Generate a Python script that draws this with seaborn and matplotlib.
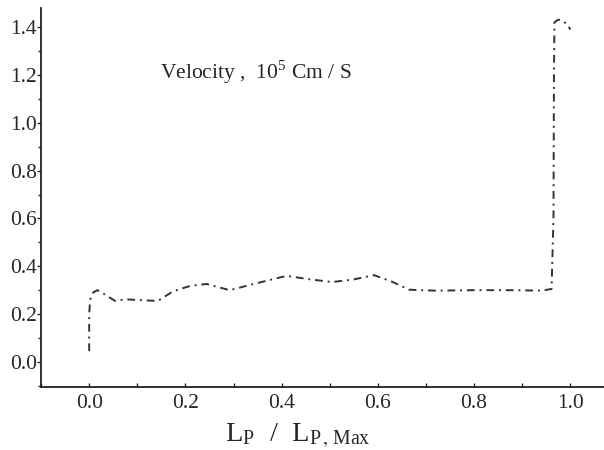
import matplotlib
matplotlib.use("Agg")
import matplotlib.pyplot as plt
import seaborn as sns
import pandas as pd
from matplotlib.ticker import MultipleLocator

# data
lp_ratio = [0.0, 0.0, 0.002, 0.008, 0.017, 0.03, 0.054, 0.075, 0.11, 0.143, 0.174, 0.21, 0.244,
            0.292, 0.35, 0.41, 0.46, 0.505, 0.55, 0.592, 0.63, 0.665, 0.72, 0.8, 0.88, 0.94,
            0.961, 0.965, 0.966, 0.967, 0.975, 0.985, 0.995, 1.0]
velocity = [0.045, 0.2, 0.26, 0.29, 0.30, 0.285, 0.255, 0.262, 0.258, 0.255, 0.295, 0.318, 0.326,
            0.30, 0.33, 0.36, 0.345, 0.334, 0.345, 0.363, 0.335, 0.302, 0.298, 0.30, 0.30, 0.298,
            0.305, 0.6, 1.2, 1.42, 1.432, 1.425, 1.41, 1.39]
order = list(range(len(lp_ratio)))

x_ticks = [0.0, 0.2, 0.4, 0.6, 0.8, 1.0]
y_ticks = [0.0, 0.2, 0.4, 0.6, 0.8, 1.0, 1.2, 1.4]

df = pd.DataFrame({"x": lp_ratio, "y": velocity, "o": order})

sns.set_style("ticks")
plt.rcParams["font.family"] = ["Liberation Serif", "DejaVu Serif"]
plt.rcParams["mathtext.fontset"] = "stix"

fig = plt.figure(figsize=(6.04, 4.5), dpi=100)
ax = fig.add_axes([0.068, 0.14, 0.932, 0.842])

sns.lineplot(data=df, x="x", y="y", sort=False, estimator=None, ax=ax,
             color="#333333", linewidth=1.4)
ax.lines[0].set_dashes([4, 2.5, 1, 2.5])

ax.set_xlim(-0.1, 1.07)
ax.set_ylim(-0.105, 1.48)
ax.set_xticks(x_ticks)
ax.set_yticks(y_ticks)
ax.set_xticklabels([f"{v:.1f}" for v in x_ticks], fontsize=15.5)
ax.set_yticklabels([f"{v:.1f}" for v in y_ticks], fontsize=15.5)
ax.xaxis.set_minor_locator(MultipleLocator(0.1))
ax.yaxis.set_minor_locator(MultipleLocator(0.1))
ax.tick_params(axis="x", which="both", direction="in", length=3, width=1, pad=5)
ax.tick_params(axis="y", which="major", direction="out", length=3, width=1, pad=0)
ax.tick_params(axis="y", which="minor", direction="out", length=2, width=1)
for s in ["top", "right"]:
    ax.spines[s].set_visible(False)
for s in ["left", "bottom"]:
    ax.spines[s].set_linewidth(1.3)
    ax.spines[s].set_color("#222222")

ax.set_xlabel(r"L$_{\mathregular{P}}$  /  L$_{\mathregular{P}}$$_{,\,\mathregular{Max}}$", fontsize=20.5)
ax.xaxis.set_label_coords(0.456, -0.092, transform=ax.transAxes)
ax.xaxis.label.set_va("top")
ax.set_ylabel("")
ax.text(0.147, 1.21, r"Velocity ,  10$^{\mathregular{5}}$ Cm / S", fontsize=15.5, ha="left", va="center")

fig.savefig("out.png", dpi=100)
